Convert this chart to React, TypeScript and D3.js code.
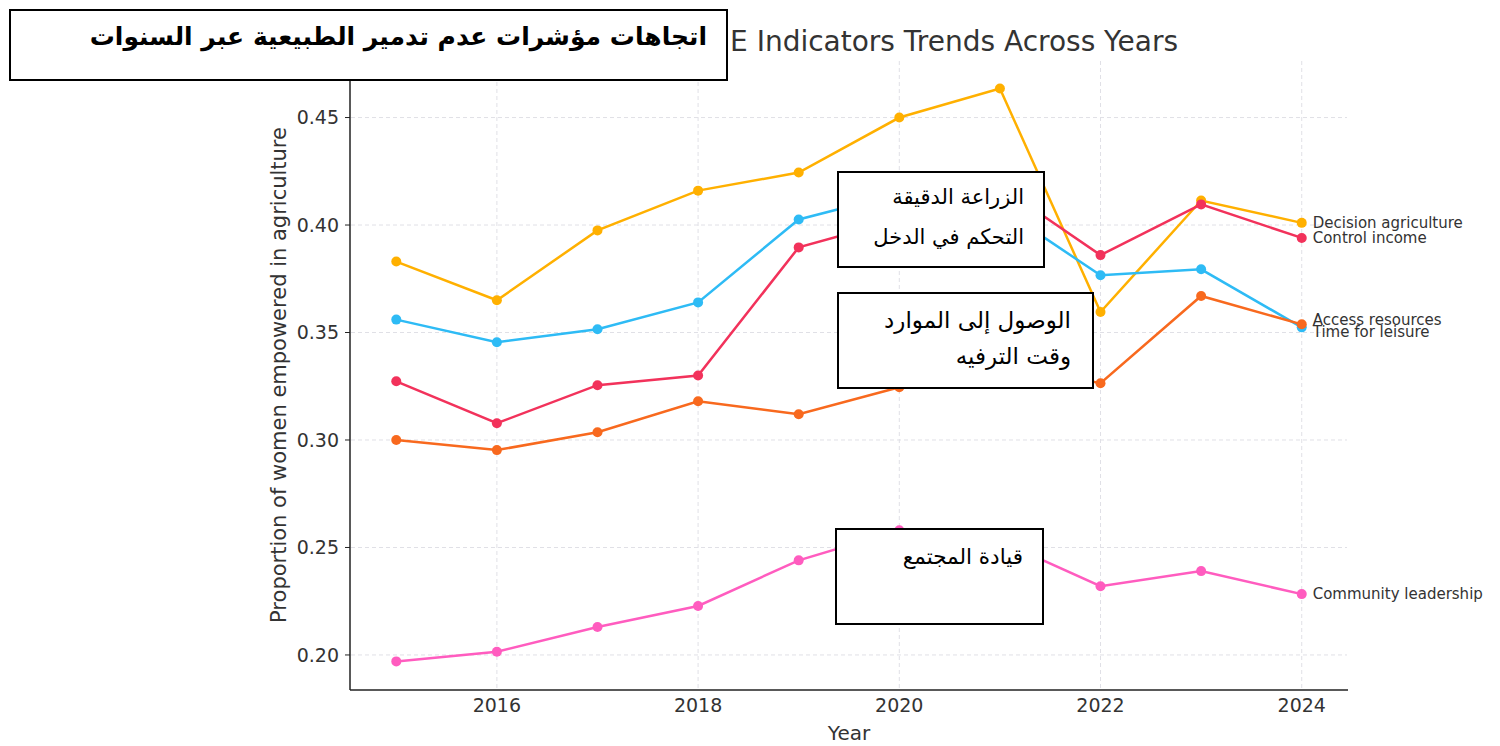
import React from "react";
import * as d3 from "d3";

const years = [2015, 2016, 2017, 2018, 2019, 2020, 2021, 2022, 2023, 2024];
const decisionAgriculture = [0.383, 0.365, 0.3975, 0.416, 0.4244, 0.45, 0.4635, 0.3595, 0.4114, 0.401];
const controlIncome = [0.3273, 0.3078, 0.3255, 0.33, 0.3896, 0.4026, 0.418, 0.386, 0.4096, 0.394];
const timeForLeisure = [0.356, 0.3455, 0.3515, 0.364, 0.4026, 0.4147, 0.408, 0.3766, 0.3794, 0.3524];
const accessResources = [0.3, 0.2953, 0.3036, 0.318, 0.312, 0.3245, 0.336, 0.3264, 0.367, 0.3538];
const communityLeadership = [0.197, 0.2015, 0.213, 0.2228, 0.244, 0.258, 0.2531, 0.232, 0.239, 0.2283];

const seriesNames = ["Decision agriculture", "Control income", "Time for leisure", "Access resources", "Community leadership"];
const xTicks = [2016, 2018, 2020, 2022, 2024];
const yTicks = [0.2, 0.25, 0.3, 0.35, 0.4, 0.45];

const titleText = "WEAI 5DE Indicators Trends Across Years";
const xLabel = "Year";
const yLabel = "Proportion of women empowered in agriculture";
const arabicTitle = "اتجاهات مؤشرات عدم تدمير الطبيعية عبر السنوات";
const box1Lines = ["الزراعة الدقيقة", "التحكم في الدخل"];
const box2Lines = ["الوصول إلى الموارد", "وقت الترفيه"];
const box3Lines = ["قيادة المجتمع"];

const colors = ["#FFB000", "#F2325B", "#2EBBF5", "#F8691E", "#FF5CBF"];
const labelDy = [0, 0, 4, -5, 0];

export default function App() {
  const W = 1500, H = 746;
  const x = d3.scaleLinear().domain([2014.55, 2024.45]).range([351, 1347]);
  const y = d3.scaleLinear().domain([0.1837, 0.4763]).range([690, 61]);
  const all = [decisionAgriculture, controlIncome, timeForLeisure, accessResources, communityLeadership];
  const line = d3.line<number>().x((_, i) => x(years[i])).y((v) => y(v));
  const font = "'DejaVu Sans', sans-serif";
  const arFont = "'DejaVu Sans', sans-serif";
  const textColor = "#333";

  return (
    <svg width={W} height={H} style={{ position: "absolute", left: 0, top: 0, background: "#fff" }}>
      <rect x={0} y={0} width={W} height={H} fill="#fff" />
      <defs>
        <clipPath id="titleClip">
          <rect x={730} y={0} width={770} height={90} />
        </clipPath>
      </defs>
      {/* grid */}
      {xTicks.map((t) => (
        <line key={"gx" + t} x1={x(t)} x2={x(t)} y1={61} y2={690} stroke="#e0e0e6" strokeWidth={1} strokeDasharray="4,3" />
      ))}
      {yTicks.map((t) => (
        <line key={"gy" + t} x1={351} x2={1347} y1={y(t)} y2={y(t)} stroke="#e0e0e6" strokeWidth={1} strokeDasharray="4,3" />
      ))}
      {/* spines */}
      <line x1={350} x2={350} y1={61} y2={690} stroke="#222" strokeWidth={1.5} />
      <line x1={350} x2={1348} y1={690} y2={690} stroke="#222" strokeWidth={1.5} />
      {/* y ticks */}
      {yTicks.map((t) => (
        <g key={"yt" + t}>
          <line x1={345} x2={350} y1={y(t)} y2={y(t)} stroke="#222" strokeWidth={1} />
          <text x={339} y={y(t)} dy="0.35em" textAnchor="end" fontFamily={font} fontSize={19} fill={textColor}>
            {t.toFixed(2)}
          </text>
        </g>
      ))}
      {/* x ticks */}
      {xTicks.map((t) => (
        <text key={"xt" + t} x={x(t)} y={712} textAnchor="middle" fontFamily={font} fontSize={19} fill={textColor}>
          {t}
        </text>
      ))}
      <text x={849} y={740} textAnchor="middle" fontFamily={font} fontSize={20} fill={textColor}>{xLabel}</text>
      <text transform={`translate(286,375) rotate(-90)`} textAnchor="middle" fontFamily={font} fontSize={21} fill={textColor}>{yLabel}</text>
      {/* title (left part hidden behind the Arabic box) */}
      <text x={1178} y={51} textAnchor="end" fontFamily={font} fontSize={28} fill={textColor} clipPath="url(#titleClip)">{titleText}</text>
      {/* lines */}
      {all.map((vals, si) => (
        <g key={"s" + si}>
          <path d={line(vals) || ""} fill="none" stroke={colors[si]} strokeWidth={2.5} />
          {vals.map((v, i) => (
            <circle key={i} cx={x(years[i])} cy={y(v)} r={5} fill={colors[si]} />
          ))}
          <text x={x(2024) + 11} y={y(vals[vals.length - 1]) + labelDy[si]} dy="0.35em" fontFamily={font} fontSize={15} fill={textColor}>
            {seriesNames[si]}
          </text>
        </g>
      ))}
      {/* annotation boxes */}
      <rect x={10} y={10} width={717} height={70} fill="#fff" stroke="#000" strokeWidth={2} />
      <text x={707} y={45} textAnchor="end" fontFamily={arFont} fontWeight="bold" fontSize={25} fill="#000">{arabicTitle}</text>

      <rect x={838} y={172} width={206} height={95} fill="#fff" stroke="#000" strokeWidth={2} />
      {box1Lines.map((s, i) => (
        <text key={"b1" + i} x={1024} y={204 + i * 40} textAnchor="end" fontFamily={arFont} fontSize={21} fill="#000">{s}</text>
      ))}
      <rect x={838} y={293} width={255} height={95} fill="#fff" stroke="#000" strokeWidth={2} />
      {box2Lines.map((s, i) => (
        <text key={"b2" + i} x={1071} y={328 + i * 36} textAnchor="end" fontFamily={arFont} fontSize={23} fill="#000">{s}</text>
      ))}
      <rect x={836} y={529} width={207} height={95} fill="#fff" stroke="#000" strokeWidth={2} />
      {box3Lines.map((s, i) => (
        <text key={"b3" + i} x={1023} y={564 + i * 36} textAnchor="end" fontFamily={arFont} fontSize={21.5} fill="#000">{s}</text>
      ))}
    </svg>
  );
}
